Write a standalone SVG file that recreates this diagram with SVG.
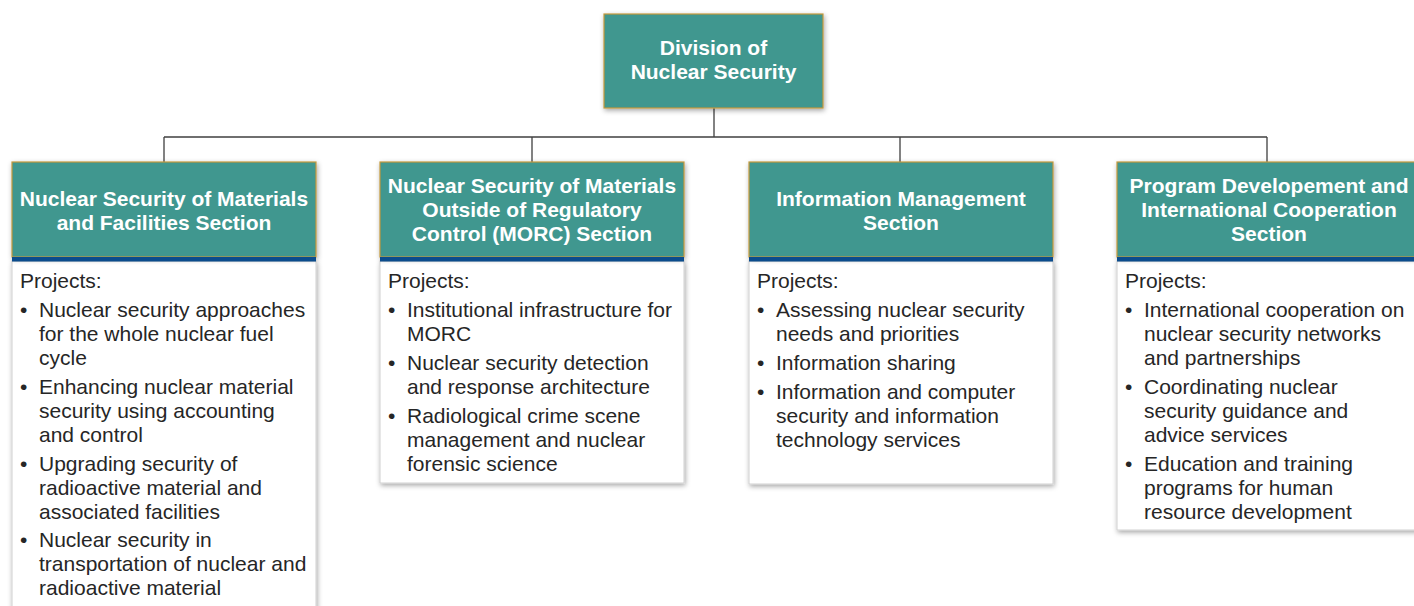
<svg xmlns="http://www.w3.org/2000/svg" width="1414" height="606" viewBox="0 0 1414 606">
<defs>
<filter id="sh" x="-10%" y="-10%" width="120%" height="125%">
<feDropShadow dx="1" dy="2" stdDeviation="2.5" flood-color="#000" flood-opacity="0.35"/>
</filter>
<style>
.hd{fill:#40978f;stroke:#c3983c;stroke-width:1.2}
.band{fill:#0b4c8c}
.body{fill:#fff;stroke:#d0d0d0;stroke-width:1}
.ht{font-family:"Liberation Sans",Arial,sans-serif;font-weight:bold;font-size:21px;fill:#fff;text-anchor:middle}
.bt{font-family:"Liberation Sans",Arial,sans-serif;font-size:21px;fill:#262626}
.ln{stroke:#404040;stroke-width:1.3;fill:none}
</style>
</defs>
<rect width="1414" height="606" fill="#fff"/>
<g id="connectors">
<path class="ln" d="M714 108V137M164 137H1267M164 137V162M532 137V162M900 137V162M1267 137V162"/>
</g>
<g id="top">
<rect class="hd" x="604" y="14" width="219" height="94" filter="url(#sh)"/>
<text class="ht" x="713.5" y="55">Division of</text>
<text class="ht" x="713.5" y="79">Nuclear Security</text>
</g>
<g id="sec1">
<rect class="body" x="12" y="261" width="304" height="360" filter="url(#sh)"/>
<rect class="hd" x="12" y="162" width="304" height="95" filter="url(#sh)"/>
<rect class="band" x="12" y="257" width="304" height="4.5"/>
<text class="ht" x="164" y="206">Nuclear Security of Materials</text>
<text class="ht" x="164" y="230">and Facilities Section</text>
<text class="bt" x="20" y="288">Projects:</text>
<text class="bt"><tspan x="20" y="317">•</tspan><tspan x="39" y="317">Nuclear security approaches</tspan><tspan x="39" y="341">for the whole nuclear fuel</tspan><tspan x="39" y="365">cycle</tspan></text>
<text class="bt"><tspan x="20" y="394">•</tspan><tspan x="39" y="394">Enhancing nuclear material</tspan><tspan x="39" y="418">security using accounting</tspan><tspan x="39" y="442">and control</tspan></text>
<text class="bt"><tspan x="20" y="471">•</tspan><tspan x="39" y="471">Upgrading security of</tspan><tspan x="39" y="495">radioactive material and</tspan><tspan x="39" y="519">associated facilities</tspan></text>
<text class="bt"><tspan x="20" y="547">•</tspan><tspan x="39" y="547">Nuclear security in</tspan><tspan x="39" y="571">transportation of nuclear and</tspan><tspan x="39" y="595">radioactive material</tspan></text>
</g>
<g id="sec2">
<rect class="body" x="380" y="261" width="304" height="222" filter="url(#sh)"/>
<rect class="hd" x="380" y="162" width="304" height="95" filter="url(#sh)"/>
<rect class="band" x="380" y="257" width="304" height="4.5"/>
<text class="ht" x="532" y="193">Nuclear Security of Materials</text>
<text class="ht" x="532" y="217">Outside of Regulatory</text>
<text class="ht" x="532" y="241">Control (MORC) Section</text>
<text class="bt" x="388" y="288">Projects:</text>
<text class="bt"><tspan x="388" y="317">•</tspan><tspan x="407" y="317">Institutional infrastructure for</tspan><tspan x="407" y="341">MORC</tspan></text>
<text class="bt"><tspan x="388" y="370">•</tspan><tspan x="407" y="370">Nuclear security detection</tspan><tspan x="407" y="394">and response architecture</tspan></text>
<text class="bt"><tspan x="388" y="423">•</tspan><tspan x="407" y="423">Radiological crime scene</tspan><tspan x="407" y="447">management and nuclear</tspan><tspan x="407" y="471">forensic science</tspan></text>
</g>
<g id="sec3">
<rect class="body" x="749" y="261" width="304" height="223" filter="url(#sh)"/>
<rect class="hd" x="749" y="162" width="304" height="95" filter="url(#sh)"/>
<rect class="band" x="749" y="257" width="304" height="4.5"/>
<text class="ht" x="901" y="206">Information Management</text>
<text class="ht" x="901" y="230">Section</text>
<text class="bt" x="757" y="288">Projects:</text>
<text class="bt"><tspan x="757" y="317">•</tspan><tspan x="776" y="317">Assessing nuclear security</tspan><tspan x="776" y="341">needs and priorities</tspan></text>
<text class="bt"><tspan x="757" y="370">•</tspan><tspan x="776" y="370">Information sharing</tspan></text>
<text class="bt"><tspan x="757" y="399">•</tspan><tspan x="776" y="399">Information and computer</tspan><tspan x="776" y="423">security and information</tspan><tspan x="776" y="447">technology services</tspan></text>
</g>
<g id="sec4">
<rect class="body" x="1117" y="261" width="304" height="269" filter="url(#sh)"/>
<rect class="hd" x="1117" y="162" width="304" height="95" filter="url(#sh)"/>
<rect class="band" x="1117" y="257" width="304" height="4.5"/>
<text class="ht" x="1269" y="193">Program Developement and</text>
<text class="ht" x="1269" y="217">International Cooperation</text>
<text class="ht" x="1269" y="241">Section</text>
<text class="bt" x="1125" y="288">Projects:</text>
<text class="bt"><tspan x="1125" y="317">•</tspan><tspan x="1144" y="317">International cooperation on</tspan><tspan x="1144" y="341">nuclear security networks</tspan><tspan x="1144" y="365">and partnerships</tspan></text>
<text class="bt"><tspan x="1125" y="394">•</tspan><tspan x="1144" y="394">Coordinating nuclear</tspan><tspan x="1144" y="418">security guidance and</tspan><tspan x="1144" y="442">advice services</tspan></text>
<text class="bt"><tspan x="1125" y="471">•</tspan><tspan x="1144" y="471">Education and training</tspan><tspan x="1144" y="495">programs for human</tspan><tspan x="1144" y="519">resource development</tspan></text>
</g>
</svg>
